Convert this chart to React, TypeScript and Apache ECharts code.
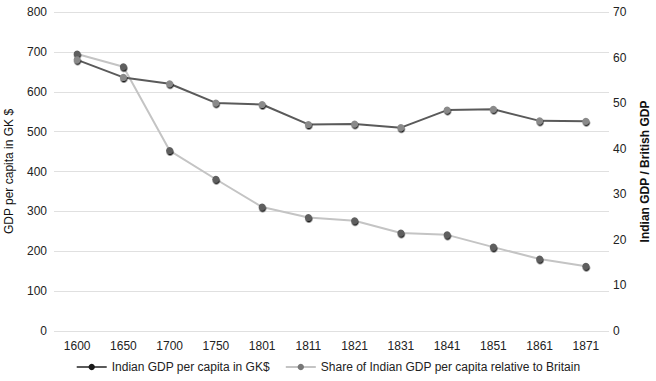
import React, { useEffect, useRef } from "react";
import * as echarts from "echarts";

const categories = ["1600", "1650", "1700", "1750", "1801", "1811", "1821", "1831", "1841", "1851", "1861", "1871"];
const gdpPerCapita = [680, 636, 620, 572, 568, 518, 519, 510, 554, 556, 527, 526];
const shareOfBritain = [60.8, 58.0, 39.6, 33.3, 27.2, 24.9, 24.2, 21.5, 21.1, 18.4, 15.8, 14.2];
const leftTicks = { min: 0, max: 800, interval: 100 };
const rightTicks = { min: 0, max: 70, interval: 10 };

export default function App() {
  const ref = useRef<HTMLDivElement>(null);
  useEffect(() => {
    if (!ref.current) return;
    const chart = echarts.init(ref.current, undefined, { renderer: "svg" });
    const font = "Liberation Sans, Arial, sans-serif";
    chart.setOption({
      animation: false,
      textStyle: { fontFamily: font },
      grid: { left: 54, right: 47, top: 12, bottom: 50, outerBoundsMode: "none", containLabel: false },
      legend: {
        bottom: 3,
        left: "center",
        itemWidth: 30,
        itemHeight: 8,
        itemGap: 15,
        textStyle: { fontSize: 12, color: "#222", fontFamily: font },
        data: [
          { name: "Indian GDP per capita in GK$", itemStyle: { color: "#1a1a1a" } },
          { name: "Share of Indian GDP per capita relative to Britain", itemStyle: { color: "#777" } },
        ],
      },
      xAxis: {
        type: "category",
        data: categories,
        boundaryGap: true,
        axisLine: { show: false },
        axisTick: { show: false },
        axisLabel: { fontSize: 12, color: "#222", margin: 9 },
      },
      yAxis: [
        {
          type: "value",
          ...leftTicks,
          name: "GDP per capita in GK $",
          nameLocation: "middle",
          nameGap: 39,
          nameTextStyle: { fontSize: 12, color: "#111" },
          axisLine: { show: false },
          axisTick: { show: false },
          axisLabel: { fontSize: 12, color: "#222", margin: 7 },
          splitLine: { lineStyle: { color: "#e0e0e0", width: 1 } },
        },
        {
          type: "value",
          ...rightTicks,
          name: "Indian GDP / British GDP",
          nameLocation: "middle",
          nameGap: 30,
          nameTextStyle: { fontSize: 12, color: "#111", fontWeight: "bold" },
          axisLine: { show: false },
          axisTick: { show: false },
          axisLabel: { fontSize: 12, color: "#222", margin: 4 },
          splitLine: { show: false },
        },
      ],
      series: [
        {
          name: "Indian GDP per capita in GK$",
          type: "line",
          yAxisIndex: 0,
          data: gdpPerCapita,
          symbol: "circle",
          symbolSize: 7,
          lineStyle: { color: "#5a5a5a", width: 2 },
          itemStyle: { color: "#8a8a8a", shadowColor: "rgba(0,0,0,0.9)", shadowOffsetY: 1.5, shadowOffsetX: 0.5, shadowBlur: 0 },
          z: 3,
        },
        {
          name: "Share of Indian GDP per capita relative to Britain",
          type: "line",
          yAxisIndex: 1,
          data: shareOfBritain,
          symbol: "circle",
          symbolSize: 7,
          lineStyle: { color: "#c4c4c4", width: 2 },
          itemStyle: { color: "#5e5e5e", shadowColor: "rgba(0,0,0,0.9)", shadowOffsetY: 1.5, shadowOffsetX: 0.5, shadowBlur: 0 },
          z: 2,
        },
      ],
    });
    return () => chart.dispose();
  }, []);
  return <div ref={ref} style={{ width: 656, height: 381, position: "absolute", left: 0, top: 0, background: "#fff" }} />;
}
